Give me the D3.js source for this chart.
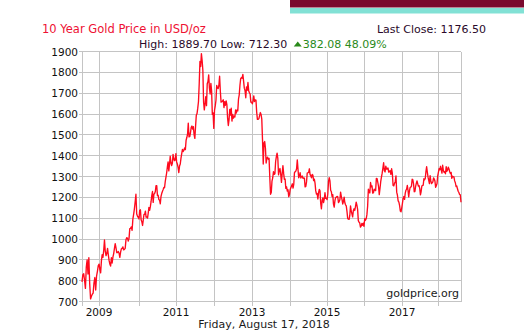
<!DOCTYPE html>
<html><head><meta charset="utf-8">
<script src="https://cdn.jsdelivr.net/npm/d3@7"></script>
<style>
body{margin:0;background:#fff}
svg{display:block}
text{font-family:"DejaVu Sans",Verdana,sans-serif}
</style>
</head><body>
<svg id="chart" width="524" height="336"></svg>
<script>
// ---------- data ----------
const titleText = "10 Year Gold Price in USD/oz";
const dateText = "Friday, August 17, 2018";
const sourceText = "goldprice.org";
const yTickValues = [700, 800, 900, 1000, 1100, 1200, 1300, 1400, 1500, 1600, 1700, 1800, 1900];
const xLabelYears = [2009, 2011, 2013, 2015, 2017];
const gridYears = [2009, 2010, 2011, 2012, 2013, 2014, 2015, 2016, 2017, 2018];
const startDate = "2008-08-15";
const endDate = "2018-08-17";

// weekly prices (USD/oz), 2008 from Aug 15, later years from the first Friday of the year
const p2008 = [794.42, 829, 833, 802, 763, 865, 900, 832, 910, 785, 712.3, 725, 735, 740, 790, 815, 755, 822, 845, 872];
const p2009 = [879, 853, 838, 895, 925, 912, 945, 995, 942, 920, 930, 955, 924, 897, 880, 870, 910,
  885, 913, 930, 955, 978, 958, 935, 935, 940, 932, 912, 937, 953, 955, 962, 948, 950, 955,
  996, 1006, 1004, 990, 1003, 1050, 1051, 1058, 1042, 1095, 1118, 1145, 1178, 1215, 1120, 1110, 1104];
const p2010 = [1096, 1138, 1140, 1092, 1083, 1065, 1090, 1118, 1118, 1134, 1105, 1106, 1100,
  1124, 1152, 1138, 1155, 1179, 1208, 1228, 1176, 1215, 1218, 1228, 1256, 1256,
  1208, 1210, 1189, 1187, 1169, 1204, 1218, 1228, 1237, 1248, 1246, 1276, 1297,
  1318, 1346, 1370, 1327, 1358, 1397, 1366, 1352, 1363, 1406, 1386, 1376, 1379, 1410];
const p2011 = [1370, 1360, 1344, 1319, 1350, 1360, 1388, 1410, 1430, 1420, 1426, 1437,
  1429, 1474, 1487, 1504, 1556, 1490, 1492, 1510, 1536, 1542, 1528, 1539, 1500,
  1483, 1541, 1594, 1602, 1628, 1660, 1745, 1852, 1828, 1889.7, 1857, 1810, 1657, 1620,
  1651, 1683, 1640, 1745, 1756, 1788, 1725, 1696, 1747, 1711, 1598, 1606, 1531];
const p2012 = [1617, 1639, 1666, 1737, 1725, 1722, 1737, 1781, 1710, 1657, 1659, 1662, 1668,
  1631, 1659, 1642, 1663, 1645, 1580, 1545, 1573, 1622, 1595, 1628, 1566, 1598,
  1580, 1590, 1586, 1619, 1604, 1620, 1615, 1672, 1692, 1738, 1770, 1775, 1772,
  1790, 1758, 1724, 1712, 1678, 1730, 1714, 1751, 1712, 1702, 1696, 1657, 1657];
const p2013 = [1649, 1662, 1687, 1660, 1668, 1667, 1609, 1574, 1574, 1578, 1592, 1607, 1598,
  1575, 1477, 1360, 1462, 1468, 1437, 1365, 1387, 1393, 1383, 1387, 1295, 1215,
  1223, 1278, 1293, 1323, 1310, 1313, 1372, 1395, 1412, 1387, 1308, 1333, 1338,
  1310, 1272, 1315, 1352, 1315, 1286, 1288, 1243, 1250, 1230, 1236, 1203, 1213];
const p2014 = [1238, 1247, 1254, 1265, 1244, 1262, 1318, 1323, 1326, 1338, 1380, 1334, 1294,
  1302, 1318, 1293, 1300, 1302, 1291, 1293, 1292, 1250, 1252, 1274, 1316, 1318,
  1320, 1337, 1310, 1303, 1294, 1310, 1306, 1280, 1287, 1268, 1231, 1216, 1218,
  1192, 1222, 1238, 1231, 1171, 1145, 1185, 1197, 1175, 1192, 1222, 1195, 1195];
const p2015 = [1189, 1216, 1276, 1294, 1279, 1234, 1227, 1204, 1213, 1167, 1153, 1183, 1199,
  1201, 1204, 1203, 1175, 1180, 1188, 1225, 1205, 1190, 1168, 1180, 1201, 1174,
  1164, 1159, 1133, 1099, 1095, 1094, 1113, 1159, 1134, 1121, 1106, 1137, 1145,
  1137, 1156, 1177, 1163, 1142, 1088, 1081, 1077, 1057, 1062, 1075, 1066, 1076];
const p2016 = [1061, 1098, 1090, 1097, 1117, 1157, 1239, 1227, 1221, 1271, 1250, 1255, 1220,
  1222, 1239, 1234, 1232, 1291, 1290, 1272, 1252, 1213, 1243, 1275, 1297, 1316,
  1340, 1366, 1328, 1322, 1350, 1336, 1336, 1341, 1321, 1324, 1328, 1310, 1337, 1316,
  1257, 1255, 1267, 1275, 1303, 1225, 1210, 1183, 1177, 1160, 1134, 1131, 1151];
const p2017 = [1173, 1196, 1204, 1190, 1220, 1234, 1239, 1257, 1234, 1202, 1229, 1247, 1249,
  1254, 1287, 1284, 1265, 1227, 1228, 1253, 1267, 1279, 1266, 1254, 1256, 1242,
  1212, 1228, 1254, 1257, 1258, 1289, 1284, 1291, 1325, 1347, 1320, 1297, 1282,
  1266, 1304, 1280, 1266, 1270, 1274, 1293, 1288, 1278, 1248, 1256, 1266, 1303];
const p2018 = [1320, 1338, 1332, 1349, 1333, 1316, 1354, 1330, 1320, 1323, 1313, 1347, 1325,
  1332, 1345, 1336, 1323, 1314, 1320, 1291, 1302, 1298, 1298, 1279, 1270, 1252,
  1255, 1241, 1229, 1223, 1214, 1212, 1176.5];

// ---------- build series ----------
const parse = d3.timeParse("%Y-%m-%d");
const series = [];
p2008.forEach((v, i) => series.push({date: d3.timeDay.offset(parse(startDate), 7 * i), value: v}));
[[2009, p2009], [2010, p2010], [2011, p2011], [2012, p2012], [2013, p2013], [2014, p2014],
 [2015, p2015], [2016, p2016], [2017, p2017], [2018, p2018]].forEach(([yr, arr]) => {
  const first = d3.timeFriday.ceil(new Date(yr, 0, 1));
  arr.forEach((v, i) => series.push({date: d3.timeDay.offset(first, 7 * i), value: v}));
});
series[series.length - 1].date = parse(endDate);

const firstVal = series[0].value;
const lastVal = series[series.length - 1].value;
const hi = d3.max(series, d => d.value);
const lo = d3.min(series, d => d.value);
const chg = lastVal - firstVal;
const pct = Math.floor(chg / firstVal * 10000) / 100;

// ---------- layout ----------
const svg = d3.select("#chart");
const L = 82, R = 461, T = 51.5, B = 301.5;

const xDomain = [parse(startDate)].concat(gridYears.map(y => new Date(y, 0, 1)), [parse(endDate)]);
const xRange = [L, 99, 139, 176, 214, 252, 290, 327, 364, 402, 438, R];
const x = d3.scaleTime().domain(xDomain).range(xRange);
const y = d3.scaleLinear().domain([700, 1900]).range([B, T]);

const crisp = v => Math.round(v - 0.5) + 0.5;

// top decorative bands
svg.append("rect").attr("x", 290).attr("y", 0).attr("width", 234).attr("height", 7.5).attr("fill", "#7a0a2e");
svg.append("rect").attr("x", 290).attr("y", 8).attr("width", 234).attr("height", 5.5).attr("fill", "#82e1d5");

// grid
const grid = svg.append("g").attr("stroke", "#c4c4c4").attr("stroke-width", 1).attr("shape-rendering", "crispEdges");
yTickValues.forEach(v => {
  const yy = crisp(y(v));
  grid.append("line").attr("x1", L - 3).attr("x2", R).attr("y1", yy).attr("y2", yy);
});
gridYears.forEach(yr => {
  const xx = crisp(x(new Date(yr, 0, 1)));
  grid.append("line").attr("x1", xx).attr("x2", xx).attr("y1", T).attr("y2", B + 4);
});
grid.append("line").attr("x1", crisp(L)).attr("x2", crisp(L)).attr("y1", T).attr("y2", B + 4);
grid.append("line").attr("x1", crisp(R)).attr("x2", crisp(R)).attr("y1", T).attr("y2", B);

// y labels
svg.append("g").selectAll("text").data(yTickValues).join("text")
  .attr("x", 78).attr("y", d => y(d) + 4)
  .attr("text-anchor", "end").attr("font-size", 10.5).attr("fill", "#111")
  .text(d => d);

// x labels
svg.append("g").selectAll("text").data(xLabelYears).join("text")
  .attr("x", d => x(new Date(d, 0, 1))).attr("y", 316)
  .attr("text-anchor", "middle").attr("font-size", 10.5).attr("fill", "#111")
  .text(d => d);

// price line
const line = d3.line().x(d => x(d.date)).y(d => y(d.value));
svg.append("path").datum(series)
  .attr("fill", "none").attr("stroke", "#ff0a1e").attr("stroke-width", 1.35)
  .attr("stroke-linejoin", "round").attr("d", line);

// texts
svg.append("text").attr("x", 42).attr("y", 33).attr("font-size", 11.5).attr("fill", "#ee1133").text(titleText);
svg.append("text").attr("x", 486).attr("y", 33).attr("text-anchor", "end").attr("font-size", 11).attr("fill", "#2a0a2a")
  .text("Last Close: " + d3.format(".2f")(lastVal));

const hl = svg.append("text").attr("x", 139).attr("y", 48).attr("font-size", 11).attr("fill", "#2a0a2a")
  .text("High: " + d3.format(".2f")(hi) + " Low: " + d3.format(".2f")(lo));
const w = hl.node().getComputedTextLength();
const tx = 139 + w + 6.5;
svg.append("path").attr("d", `M${tx},${46.5} L${tx + 8},${46.5} L${tx + 4},${41.5} Z`).attr("fill", "#2a8a1a");
svg.append("text").attr("x", tx + 9).attr("y", 48).attr("font-size", 11).attr("fill", "#2a8a1a")
  .text(d3.format(".2f")(chg) + " " + d3.format(".2f")(pct) + "%");

svg.append("text").attr("x", 459).attr("y", 297).attr("text-anchor", "end").attr("font-size", 11).attr("fill", "#1a1a1a").text(sourceText);
svg.append("text").attr("x", 264).attr("y", 328).attr("text-anchor", "middle").attr("font-size", 11).attr("fill", "#1a1a1a").text(dateText);
</script>
</body></html>
